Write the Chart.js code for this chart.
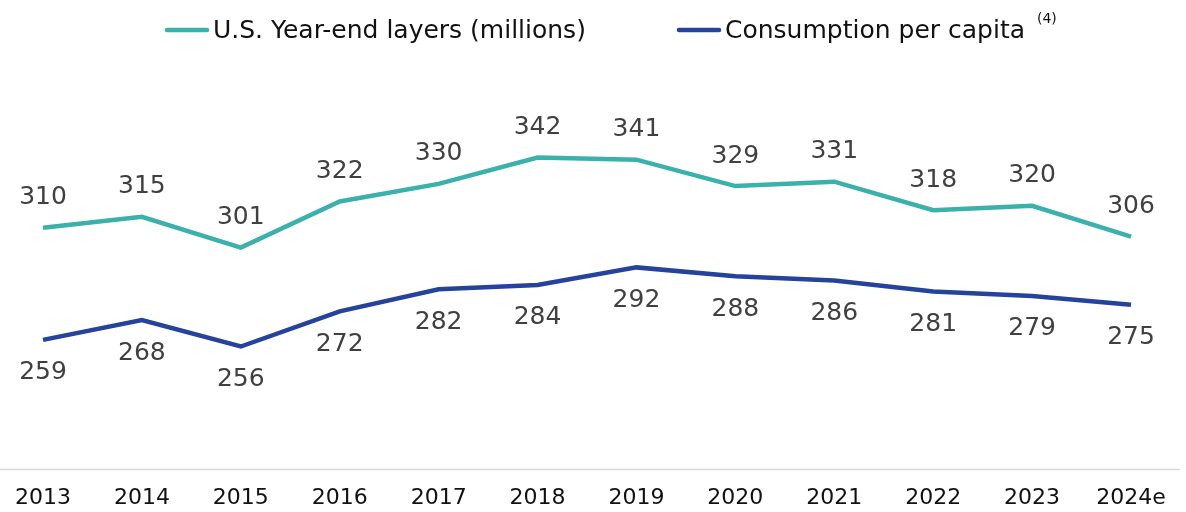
<!DOCTYPE html>
<html>
<head>
<meta charset="utf-8">
<script src="https://cdn.jsdelivr.net/npm/chart.js@4.4.1/dist/chart.umd.min.js"></script>
<style>
  html, body { margin: 0; padding: 0; background: #fff; }
  #wrap { width: 1186px; height: 512px; position: relative; }
</style>
</head>
<body>
<div id="wrap"><canvas id="chart"></canvas></div>
<script>
// Datos
const years = ['2013', '2014', '2015', '2016', '2017', '2018', '2019', '2020', '2021', '2022', '2023', '2024e'];
const layers = [310, 315, 301, 322, 330, 342, 341, 329, 331, 318, 320, 306];
const consumption = [259, 268, 256, 272, 282, 284, 292, 288, 286, 281, 279, 275];

const teal = '#3AB1AB';
const blue = '#25439B';

// Línea base a todo lo ancho, en el valor mínimo del eje y
const baseLine = {
    id: 'baseLine',
    beforeDatasetsDraw(chart) {
        const ctx = chart.ctx;
        const y = chart.scales.y.getPixelForValue(chart.scales.y.min);
        ctx.save();
        ctx.strokeStyle = '#d9d9d9';
        ctx.lineWidth = 1.5;
        ctx.beginPath();
        ctx.moveTo(0, y);
        ctx.lineTo(1180, y);
        ctx.stroke();
        ctx.restore();
    }
};

// Etiquetas de valores (arriba para capas, abajo para consumo)
const valueLabels = {
    id: 'valueLabels',
    afterDatasetsDraw(chart) {
        const ctx = chart.ctx;
        ctx.save();
        ctx.font = '25px "DejaVu Sans"';
        ctx.fillStyle = '#404040';
        ctx.textAlign = 'center';
        ctx.textBaseline = 'middle';
        chart.data.datasets.forEach((ds, i) => {
            const meta = chart.getDatasetMeta(i);
            const dy = i === 0 ? -30 : 33;
            meta.data.forEach((pt, j) => {
                ctx.fillText(String(ds.data[j]), pt.x, pt.y + dy);
            });
        });
        ctx.restore();
    }
};

// Leyenda con superíndice
const topLegend = {
    id: 'topLegend',
    afterDraw(chart) {
        const ctx = chart.ctx;
        const items = [
            { x: 165, label: chart.data.datasets[0].label, color: teal, sup: '' },
            { x: 677, label: chart.data.datasets[1].label, color: blue, sup: '(4)' }
        ];
        ctx.save();
        items.forEach(it => {
            ctx.strokeStyle = it.color;
            ctx.lineWidth = 4.5;
            ctx.lineCap = 'round';
            ctx.beginPath();
            ctx.moveTo(it.x + 2, 30);
            ctx.lineTo(it.x + 42, 30);
            ctx.stroke();
            ctx.font = '25px "DejaVu Sans"';
            ctx.fillStyle = '#111';
            ctx.textAlign = 'left';
            ctx.textBaseline = 'middle';
            ctx.fillText(it.label, it.x + 48, 31);
            if (it.sup) {
                const w = ctx.measureText(it.label).width;
                ctx.font = '14px "DejaVu Sans"';
                ctx.fillText(it.sup, it.x + 48 + w + 12, 19);
            }
        });
        ctx.restore();
    }
};

new Chart(document.getElementById('chart'), {
    type: 'line',
    data: {
        labels: years,
        datasets: [
            {
                label: 'U.S. Year-end layers (millions)',
                data: layers,
                borderColor: teal,
                backgroundColor: teal,
                borderWidth: 4.5,
                pointRadius: 0,
                tension: 0
            },
            {
                label: 'Consumption per capita',
                data: consumption,
                borderColor: blue,
                backgroundColor: blue,
                borderWidth: 4.5,
                pointRadius: 0,
                tension: 0
            }
        ]
    },
    options: {
        responsive: true,
        maintainAspectRatio: false,
        animation: false,
        layout: { padding: { top: 30, left: 43, right: 55, bottom: -14 } },
        plugins: {
            legend: { display: false },
            tooltip: { enabled: false }
        },
        scales: {
            x: {
                offset: false,
                grid: { display: false, drawTicks: false },
                border: { display: false },
                ticks: {
                    color: '#111',
                    padding: 15,
                    maxRotation: 0,
                    autoSkip: false,
                    font: { family: '"DejaVu Sans"', size: 22 }
                }
            },
            y: {
                display: false,
                min: 200,
                max: 400
            }
        }
    },
    plugins: [baseLine, valueLabels, topLegend]
});
</script>
</body>
</html>
